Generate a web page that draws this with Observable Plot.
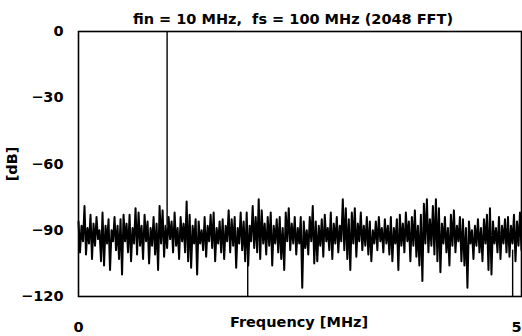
<!DOCTYPE html>
<html>
<head>
<meta charset="utf-8">
<script src="https://cdn.jsdelivr.net/npm/d3@7"></script>
<script src="https://cdn.jsdelivr.net/npm/@observablehq/plot@0.6"></script>
<style>
  html, body { margin: 0; padding: 0; background: #fff; }
  svg { display: block; }
</style>
</head>
<body>
<div id="chart"></div>
<script>
const titleText = "fin = 10 MHz,  fs = 100 MHz (2048 FFT)";
const xLabel = "Frequency [MHz]";
const yLabel = "[dB]";
const xTicks = [0, 50];
const yTicks = [0, -30, -60, -90, -120];
const xDomain = [0, 50];
const yDomain = [-120, 0];

// Noise floor (alternating upper / lower excursions)
const noiseDb = [
  -86,-100, -88,-95, -79,-101, -89,-96, -83,-103, -87,-97, -84,-94, -90,-104,
  -82,-106, -88,-96, -85,-108, -90,-95, -84,-99, -88,-103, -85,-110, -83,-95,
  -87,-100, -83,-104, -89,-96, -80,-101, -82,-97, -88,-103, -83,-95, -86,-105,
  -89,-97, -84,-101, -87,-108, -79,-96, -81,-102, -88,-98, -84,-94, -86,-100,
  -82,-97, -89,-103, -84,-95, -87,-100, -77,-104, -83,-107, -88,-96, -85,-110,
  -86,-96, -90,-99, -84,-102, -88,-95, -83,-98, -82,-104, -89,-96, -86,-100,
  -85,-103, -88,-95, -81,-100, -85,-97, -84,-107, -89,-96, -82,-99, -86,-104,
  -82,-106, -88,-95, -79,-98, -84,-100, -76,-103, -81,-96, -87,-101, -84,-97,
  -82,-106, -88,-96, -85,-100, -84,-103, -89,-108, -82,-95, -80,-99, -87,-96,
  -84,-101, -89,-96, -84,-116, -86,-98, -90,-101, -84,-95, -79,-105, -86,-104,
  -88,-97, -85,-102, -83,-95, -89,-99, -82,-103, -87,-96, -84,-100, -88,-95,
  -76,-99, -80,-103, -85,-108, -82,-96, -80,-102, -87,-95, -82,-99, -88,-97,
  -84,-101, -86,-104, -90,-96, -86,-99, -84,-95, -89,-100, -85,-96, -88,-101,
  -84,-104, -89,-96, -85,-108, -83,-97, -87,-100, -82,-95, -86,-104, -84,-97,
  -81,-102, -88,-106, -83,-113, -78,-96, -76,-100, -85,-97, -79,-101, -76,-104,
  -80,-109, -87,-96, -84,-100, -89,-106, -83,-97, -81,-100, -88,-95, -84,-104,
  -85,-106, -89,-116, -86,-96, -90,-103, -88,-97, -85,-100, -89,-104, -85,-96,
  -83,-108, -80,-110, -86,-96, -89,-100, -84,-103, -88,-96, -85,-100, -84,-102,
  -88,-96, -83,-104, -86,-97, -82,-99
];
const binStep = 50 / (noiseDb.length - 1);
const spectrum = noiseDb.map((db, i) => ({ f: i * binStep, db }));

// Fundamental tone
const toneFreq = [10];
const toneTop = [0];
const toneBase = [-88];
// Deep notches reaching the bottom of the scale
const notchFreq = [19.1, 49.0];
const notchTop = [-97, -99];
const notchBottom = [-120, -120];

const tones = toneFreq.map((f, i) => ({ f, y1: toneBase[i], y2: toneTop[i] }));
const notches = notchFreq.map((f, i) => ({ f, y1: notchBottom[i], y2: notchTop[i] }));

const font = "'DejaVu Sans', 'Liberation Sans', Arial, sans-serif";
const fs = 14.5;

const chart = Plot.plot({
  width: 522,
  height: 336,
  marginLeft: 78,
  marginRight: 1,
  marginTop: 31,
  marginBottom: 40,
  style: { fontFamily: font, fontWeight: "bold", fontSize: fs + "px", color: "#000", background: "#fff" },
  x: { domain: xDomain, clamp: true },
  y: { domain: yDomain },
  marks: [
    Plot.line(spectrum, { x: "f", y: "db", stroke: "#000", strokeWidth: 2 }),
    Plot.ruleX(tones, { x: "f", y1: "y1", y2: "y2", stroke: "#000", strokeWidth: 1.4 }),
    Plot.ruleX(notches, { x: "f", y1: "y1", y2: "y2", stroke: "#000", strokeWidth: 1.4 }),
    Plot.frame({ stroke: "#000", strokeWidth: 1.6 }),
    Plot.axisY({ ticks: yTicks, tickSize: 0, tickPadding: 15, label: null, fontSize: fs, fontWeight: "bold" }),
    Plot.axisX({ ticks: xTicks, tickSize: 0, tickPadding: 25, label: null, fontSize: fs, fontWeight: "bold" }),
    Plot.text([titleText], { frameAnchor: "top", dy: -18, dx: -7, text: d => d, fontSize: fs, fontWeight: "bold" }),
    Plot.text([xLabel], { frameAnchor: "bottom", dy: 30, dx: -1, text: d => d, fontSize: fs, fontWeight: "bold" }),
    Plot.text([yLabel], { frameAnchor: "left", textAnchor: "middle", dx: -66, dy: 0, rotate: -90, text: d => d, fontSize: fs, fontWeight: "bold" })
  ]
});
document.getElementById("chart").appendChild(chart);
</script>
</body>
</html>
